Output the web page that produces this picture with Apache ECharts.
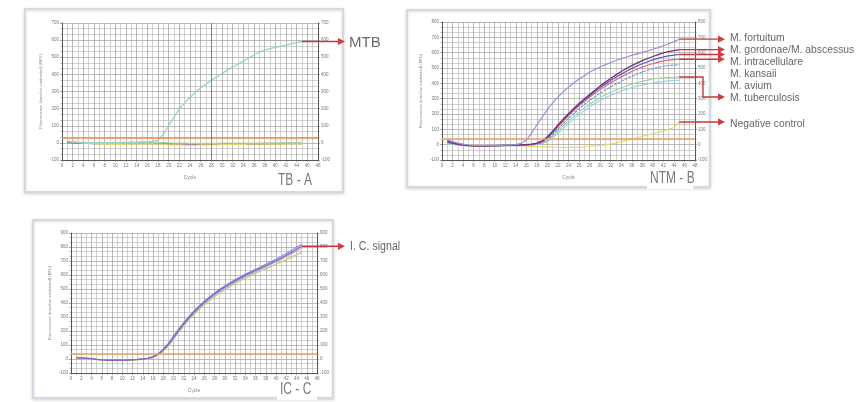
<!DOCTYPE html>
<html><head><meta charset="utf-8">
<script src="https://cdn.jsdelivr.net/npm/echarts@6/dist/echarts.min.js"></script>
<style>html,body{margin:0;padding:0;background:#fff}#c{width:859px;height:402px}</style>
</head><body><div id="c"></div><script>
// ---------- data ----------
const cycles = [1,2,3,4,5,6,7,8,9,10,11,12,13,14,15,16,17,18,19,20,21,22,23,24,25,26,27,28,29,30,31,32,33,34,35,36,37,38,39,40,41,42,43,44,45];
const xTickLabels = [0,2,4,6,8,10,12,14,16,18,20,22,24,26,28,30,32,34,36,38,40,42,44,46,48];
const yTicksA = [-100,0,100,200,300,400,500,600,700];
const yTicksB = [-100,0,100,200,300,400,500,600,700,800];
const yTicksC = [-100,0,100,200,300,400,500,600,700,800,900];
const yAxisName = 'Fluorescence (baseline subtracted) (RFU)';
const xAxisName = 'Cycle';

// Panel A : TB
const tbMTB    = [8,6,4,3,2,2,1,1,2,2,3,3,4,4,5,6,8,15,50,100,150,198,235,265,295,320,343,365,385,405,425,443,460,477,495,513,530,542,550,557,564,571,579,586,592];
const tbNavy   = [4,2,0,-1,-2,-3,-4,-4,-5,-5,-5,-4,-4,-3,-3,-3,-3,-4,-5,-6,-6,-7,-7,-8,-8,-8,-8,-8,-7,-7,-7,-7,-6,-6,-6,-6,-6,-5,-5,-5,-5,-4,-4,-4,-4];
const tbPurple = [6,3,1,0,-1,-2,-3,-3,-4,-4,-4,-4,-3,-3,-3,-2,-2,-2,-3,-4,-5,-5,-6,-6,-6,-6,-6,-6,-5,-5,-5,-5,-5,-4,-4,-4,-4,-3,-3,-3,-3,-2,-2,-2,-2];
const tbYellow = [10,6,3,0,-3,-5,-7,-8,-9,-9,-9,-8,-8,-7,-7,-6,-6,-7,-9,-11,-12,-12,-13,-13,-13,-12,-12,-11,-11,-10,-10,-9,-9,-9,-8,-8,-8,-8,-7,-7,-7,-7,-6,-6,-6];
const tbGreen  = [8,5,2,0,-2,-3,-4,-4,-4,-3,-3,-2,-2,-1,0,1,2,2,1,0,-1,-2,-2,-3,-3,-3,-3,-3,-3,-2,-2,-2,-2,-2,-1,-1,-1,-1,-1,0,0,0,0,0,0];
const thresholdA = 30;
const cursorA = 28;

// Panel B : NTM
const ntmFortuitum  = [30,20,10,3,-2,-5,-6,-6,-5,-5,-4,-3,-2,0,8,30,75,130,180,228,272,310,345,375,402,428,450,472,490,507,522,536,549,561,572,582,592,602,612,622,633,645,658,672,688];
const ntmGordonae   = [25,14,5,0,-4,-6,-7,-7,-6,-6,-5,-5,-4,-3,-2,0,3,10,25,52,88,128,166,202,236,268,298,327,355,382,408,432,455,477,497,515,532,548,562,575,587,598,607,614,620];
const ntmAbscessus  = [20,10,3,-2,-5,-7,-8,-8,-7,-6,-6,-5,-4,-3,-2,0,2,8,22,48,84,124,162,197,230,262,291,319,346,372,396,418,440,460,479,497,513,528,541,553,563,572,579,584,588];
const ntmIntracell  = [18,8,2,-3,-6,-8,-9,-9,-8,-7,-6,-5,-5,-4,-3,-1,1,6,18,42,76,116,154,189,222,253,282,309,335,359,382,403,423,442,460,477,492,506,518,529,538,546,551,554,557];
const ntmKansaii    = [15,6,0,-4,-7,-9,-10,-10,-9,-8,-7,-6,-5,-4,-3,-2,0,4,14,35,66,102,138,172,204,234,262,288,312,335,356,376,395,413,430,446,461,474,486,496,505,511,516,519,521];
const ntmAvium      = [12,4,-1,-5,-8,-10,-11,-11,-10,-9,-8,-7,-6,-5,-4,-3,-1,2,10,28,55,88,122,155,186,214,240,264,286,306,325,342,357,371,383,394,404,413,421,428,433,437,439,440,441];
const ntmTB         = [10,2,-3,-6,-9,-11,-12,-12,-11,-10,-9,-8,-7,-6,-5,-4,-2,1,6,20,44,74,106,138,168,196,222,246,268,288,306,322,337,350,362,372,381,389,396,402,408,412,416,418,420];
const ntmNegative   = [28,18,8,2,-2,-4,-5,-5,-5,-5,-5,-5,-5,-6,-7,-9,-11,-13,-14,-15,-16,-17,-18,-18,-18,-17,-15,-12,-8,-5,-1,5,12,20,28,37,46,55,63,72,81,90,100,112,148];
const thresholdB = 40;

// Panel C : internal control
const icPurple = [10,8,5,2,-2,-6,-8,-9,-9,-8,-7,-5,-3,0,4,15,35,65,105,155,205,252,295,335,372,405,436,464,490,514,537,558,578,597,615,632,649,666,684,702,721,741,762,784,805];
const icBlue   = [12,9,6,2,-2,-5,-7,-8,-8,-8,-6,-5,-3,0,5,17,38,70,112,163,213,260,303,343,380,413,444,472,498,522,545,566,586,605,623,641,658,676,694,713,733,754,776,798,820];
const icPink   = [8,6,3,0,-4,-7,-9,-10,-10,-9,-8,-6,-4,-1,3,13,32,60,98,147,197,244,287,327,364,397,428,456,482,506,529,550,570,589,607,624,641,658,676,694,712,731,751,772,792];
const icGreen  = [6,4,2,-1,-4,-7,-9,-10,-10,-9,-8,-7,-5,-2,2,12,30,58,95,143,192,238,281,320,356,389,419,447,473,497,519,540,560,579,597,614,630,646,662,678,694,711,728,745,763];
const icYellow = [5,3,1,-2,-5,-8,-10,-11,-11,-10,-9,-8,-6,-3,1,10,28,55,92,140,189,235,278,317,353,386,416,444,470,494,516,537,557,576,594,611,627,643,659,675,691,708,725,742,760];
const thresholdC = 40;

const ntmLabels = ['M. fortuitum','M. gordonae/M. abscessus','M. intracellulare','M. kansaii','M. avium','M. tuberculosis'];

// ---------- chart ----------
const FONT = '"Liberation Sans", Arial, sans-serif';
const chart = echarts.init(document.getElementById('c'), null, {renderer:'canvas'});
const grids = [
  {left:62, top:23, width:256, height:137},
  {left:442, top:22, width:253, height:138},
  {left:71, top:233, width:246, height:140}
];
function xAx(gi){
  return {type:'value', gridIndex:gi, min:xTickLabels[0], max:xTickLabels[xTickLabels.length-1],
    interval:xTickLabels[1]-xTickLabels[0], name:xAxisName, nameLocation:'middle', nameGap:15,
    nameTextStyle:{fontSize:5, color:'#888', fontFamily:FONT},
    axisLine:{show:true, onZero:false, lineStyle:{color:'#555', width:1}},
    axisTick:{show:true, length:2, lineStyle:{color:'#666', width:0.6}},
    minorTick:{show:true, splitNumber:2, length:1.5, lineStyle:{color:'#777', width:0.5}},
    axisLabel:{fontSize:4.5, color:'#777', margin:3, fontFamily:FONT},
    splitLine:{show:true, lineStyle:{color:'#9c9c9c', width:0.7}},
    minorSplitLine:{show:true, lineStyle:{color:'#b2b2b2', width:0.6}}};
}
function yAx(gi, ticks, pos){
  const left = pos === 'left';
  return {type:'value', gridIndex:gi, position:pos, min:ticks[0], max:ticks[ticks.length-1],
    interval:ticks[1]-ticks[0],
    name: left ? yAxisName : '', nameLocation:'middle', nameGap:19, nameRotate:90,
    nameTextStyle:{fontSize:4, color:'#888', fontFamily:FONT},
    axisLine:{show:true, onZero:false, lineStyle:{color:'#555', width:1}},
    axisTick:{show:true, length:2, lineStyle:{color:'#666', width:0.6}},
    minorTick:{show:true, splitNumber:3, length:1.5, lineStyle:{color:'#777', width:0.5}},
    axisLabel:{fontSize:4.5, color:'#777', margin:3, fontFamily:FONT},
    splitLine:{show:left, lineStyle:{color:'#9c9c9c', width:0.7}},
    minorSplitLine:{show:left, lineStyle:{color:'#b2b2b2', width:0.6}}};
}
function ser(vals, color, gi, width, extra){
  return Object.assign({type:'line', xAxisIndex:gi, yAxisIndex:gi*2, silent:true,
    data:cycles.map((c,i)=>[c, vals[i]]), symbol:'none', showSymbol:false,
    lineStyle:{color:color, width:width||1.2}, z:3}, extra||{});
}
function thr(v, color){
  return {silent:true, symbol:'none', label:{show:false}, animation:false,
    data:[{yAxis:v, lineStyle:{color:color, width:1.5, type:'solid'}}]};
}

const option = {
  animation:false,
  backgroundColor:'#fff',
  grid: grids,
  xAxis:[xAx(0), xAx(1), xAx(2)],
  yAxis:[yAx(0,yTicksA,'left'), yAx(0,yTicksA,'right'),
         yAx(1,yTicksB,'left'), yAx(1,yTicksB,'right'),
         yAx(2,yTicksC,'left'), yAx(2,yTicksC,'right')],
  series:[
    ser(tbNavy, '#3b2f78', 0, 1.5, {markLine:{silent:true, symbol:'none', label:{show:false},
      data:[{yAxis:thresholdA, lineStyle:{color:'#ee8a52', width:1.6, type:'solid'}},
            {xAxis:cursorA, lineStyle:{color:'#7c7c7c', width:0.9, type:'solid'}}]}}),
    ser(tbPurple, '#8b6fcf', 0, 1.1),
    ser(tbGreen, '#a9d79a', 0, 1.2),
    ser(tbYellow, '#e6d66a', 0, 1.2),
    ser(tbMTB, '#97d2c6', 0, 1.3),

    ser(ntmNegative, '#e8d86c', 1, 1.2, {markLine:thr(thresholdB, '#eea060')}),
    ser(ntmTB, '#8fd3e2', 1, 1.1),
    ser(ntmAvium, '#9ed49a', 1, 1.1),
    ser(ntmKansaii, '#6c98d8', 1, 1.1, {lineStyle:{color:'#6c98d8', width:1.1, type:[3,1]}}),
    ser(ntmIntracell, '#d86c7c', 1, 1.2),
    ser(ntmAbscessus, '#4a5cc0', 1, 1.2),
    ser(ntmGordonae, '#7a2c6c', 1, 1.3),
    ser(ntmFortuitum, '#a48cd8', 1, 1.2),

    ser(icYellow, '#e3d673', 2, 1.1, {markLine:thr(thresholdC, '#eea060')}),
    ser(icGreen, '#a7d69b', 2, 1.1),
    ser(icPink, '#d99ac2', 2, 1.1),
    ser(icBlue, '#6b8edc', 2, 1.1),
    ser(icPurple, '#8466c4', 2, 1.3)
  ]
};
chart.setOption(option);

// ---------- annotations ----------
const AR = '#c23a3c';
const last = cycles.length - 1;
function P(gi, v){ return chart.convertToPixel({gridIndex:gi}, [cycles[last], v]); }
function arrowEls(points, tipX, y){
  const pts = points.concat([[tipX-6, y]]);
  return [
    {type:'polyline', shape:{points:pts}, style:{stroke:AR, lineWidth:1.4, fill:null}, z:50},
    {type:'polygon', shape:{points:[[tipX-7,y-3.6],[tipX,y],[tipX-7,y+3.6]]}, style:{fill:'#d23c3c'}, z:50}
  ];
}
function txt(x, y, s, size, sx, color){
  return {type:'text', x:x, y:y, scaleX:sx, z:60,
    style:{text:s, fontSize:size, fontFamily:FONT, fill:color||'#666', align:'left', verticalAlign:'middle'}};
}
const els = [];
// panel frames
[[25,9,318,183],[407,10,303,177],[33,220,300,178]].forEach(b=>{
  els.push({type:'rect', shape:{x:b[0],y:b[1],width:b[2],height:b[3]}, z:-10, silent:true,
    style:{fill:'#fff', stroke:'#d3dae2', lineWidth:2, shadowBlur:3, shadowColor:'rgba(0,0,0,0.15)', shadowOffsetY:1}});
});
// panel A
const a = P(0, tbMTB[last]);
arrowEls([[a[0],a[1]]], 345, a[1]).forEach(e=>els.push(e));
els.push(txt(349, a[1]+1, 'MTB', 15, 1, '#6a6a6a'));
// panel C
const c = P(2, icPurple[last]);
arrowEls([[c[0],c[1]]], 345, c[1]).forEach(e=>els.push(e));
els.push(txt(350, c[1], 'I. C. signal', 12.5, 0.85));
// panel B
[ntmFortuitum, ntmGordonae, ntmAbscessus, ntmIntracell].forEach(arr=>{
  const p = P(1, arr[last]);
  arrowEls([[p[0],p[1]]], 725, p[1]).forEach(e=>els.push(e));
});
const av = P(1, ntmAvium[last]);
arrowEls([[av[0],av[1]],[703,av[1]],[703,97]], 725, 97).forEach(e=>els.push(e));
const ng = P(1, ntmNegative[last]);
arrowEls([[ng[0],ng[1]]], 725, ng[1]).forEach(e=>els.push(e));
const rowsY = [38, 50, 62, 74, 86, 98];
ntmLabels.forEach((s,i)=>els.push(txt(730, rowsY[i], s, 11.5, 0.9)));
els.push(txt(730, ng[1]+2, 'Negative control', 11.5, 0.9));
// panel captions
[[278,181,'TB - A'],[650,179,'NTM - B'],[280,390,'IC - C']].forEach(t=>{
  els.push({type:'rect', shape:{x:t[0]-3,y:t[1]-9,width:t[2].length*6+4,height:19}, z:55, style:{fill:'#fff'}});
  els.push(txt(t[0], t[1], t[2], 16, 0.75, '#7a7a7a'));
});
chart.setOption({graphic:{elements:els}});
</script></body></html>
